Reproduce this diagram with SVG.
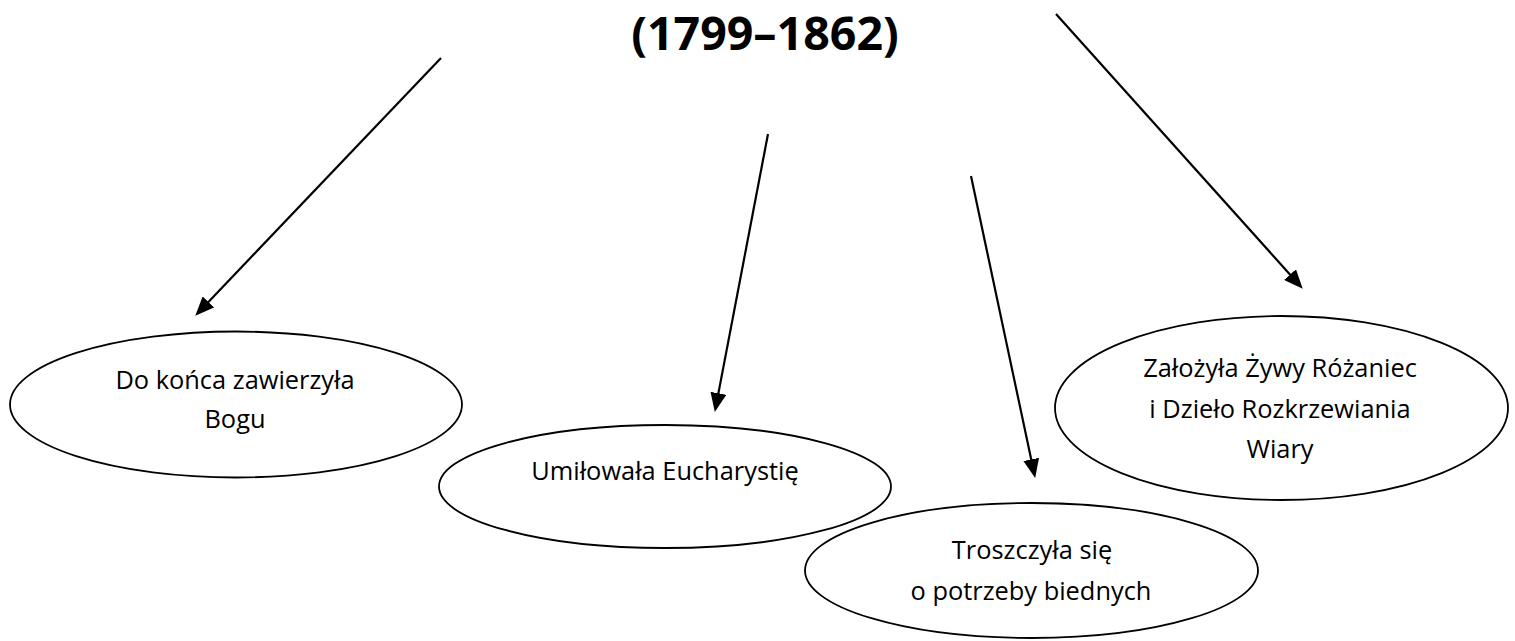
<svg xmlns="http://www.w3.org/2000/svg" width="1515" height="641" viewBox="0 0 1515 641">
<style>
.bg{fill:#ffffff}
.node ellipse{fill:#ffffff;stroke:#000000;stroke-width:1.8}
.node text{font-family:"Open Sans","Liberation Sans",sans-serif;font-size:25.4px;fill:#000000;text-anchor:middle}
.title{font-family:"Open Sans","Liberation Sans",sans-serif;font-size:46.5px;font-weight:bold;fill:#000000;text-anchor:middle}
.conn line{stroke:#000000;stroke-width:2.2;fill:none}
</style>
<defs>
<marker id="arrow" viewBox="0 0 19 16" refX="10" refY="8" markerWidth="19" markerHeight="16" markerUnits="userSpaceOnUse" orient="auto">
<path d="M0,0 L19,8 L0,16 Z" fill="#000000"/>
</marker>
</defs>
<rect class="bg" x="0" y="0" width="1515" height="641"/>
<g id="title">
<text class="title" x="765" y="50">(1799–1862)</text>
</g>
<g id="connectors" class="conn">
<line x1="441" y1="58" x2="201.5" y2="309.2" marker-end="url(#arrow)"/>
<line x1="768" y1="134" x2="716.5" y2="403.1" marker-end="url(#arrow)"/>
<line x1="971" y1="176" x2="1033.3" y2="469.2" marker-end="url(#arrow)"/>
<line x1="1056" y1="14" x2="1296.7" y2="282" marker-end="url(#arrow)"/>
</g>
<g id="node-bogu" class="node">
<ellipse cx="236" cy="404.5" rx="226" ry="73"/>
<text x="235" y="388.5">Do końca zawierzyła</text>
<text x="235" y="427.5">Bogu</text>
</g>
<g id="node-eucharystia" class="node">
<ellipse cx="665" cy="486.5" rx="226" ry="61.5"/>
<text x="665" y="480">Umiłowała Eucharystię</text>
</g>
<g id="node-rozaniec" class="node">
<ellipse cx="1281.5" cy="408" rx="226.5" ry="92"/>
<text x="1280" y="377">Założyła Żywy Różaniec</text>
<text x="1280" y="417.5">i Dzieło Rozkrzewiania</text>
<text x="1280" y="457.5">Wiary</text>
</g>
<g id="node-biedni" class="node">
<ellipse cx="1031.5" cy="570.5" rx="226.5" ry="67.5"/>
<text x="1032" y="558.5">Troszczyła się</text>
<text x="1031" y="600">o potrzeby biednych</text>
</g>
</svg>
